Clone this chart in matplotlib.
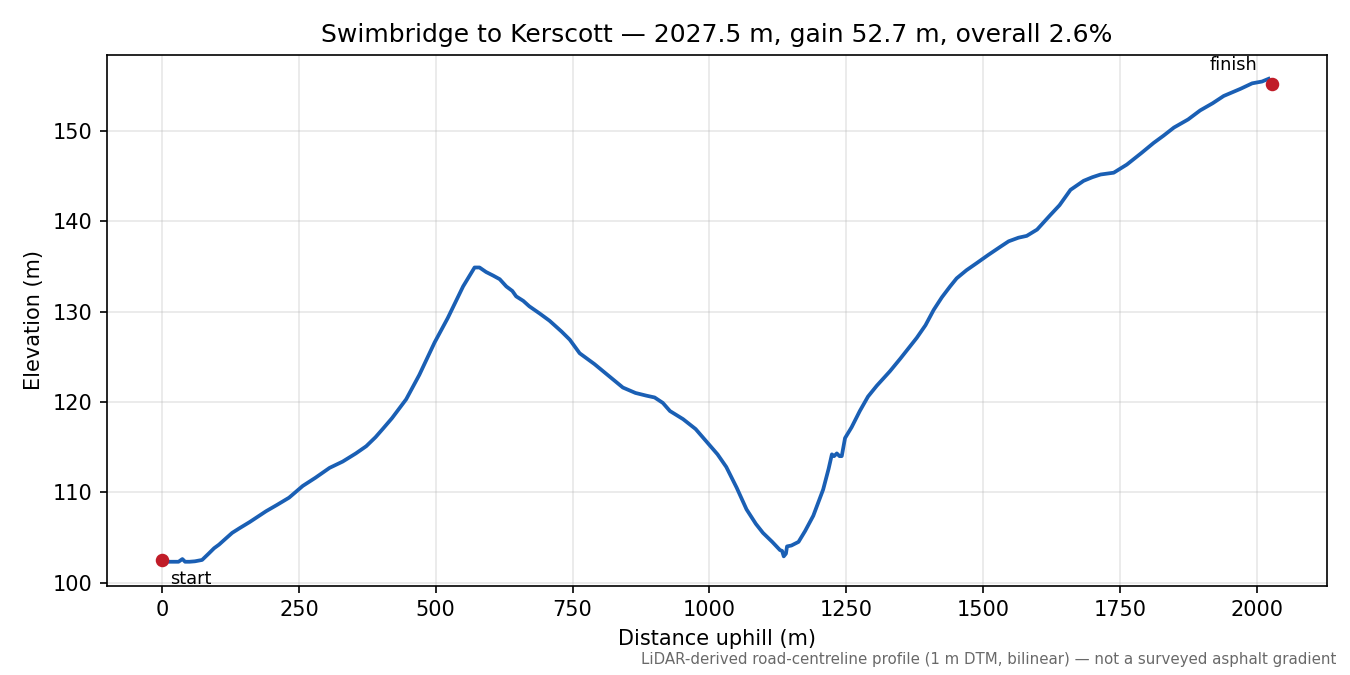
import matplotlib
matplotlib.use("Agg")
import matplotlib.pyplot as plt

# profile
dist = [0, 10, 20, 30, 37, 42, 50, 60, 73, 85, 95, 104, 115, 128, 141, 160, 190, 210,
        232, 257, 280, 306, 330, 354, 373, 390, 403, 420, 446, 470, 498, 522, 550, 571,
        580, 592, 605, 617, 629, 640, 647, 660, 671, 690, 708, 730, 745, 763, 790, 812,
        842, 865, 885, 900, 915, 928, 952, 975, 995, 1015, 1031, 1050, 1068, 1085, 1098,
        1115, 1129, 1133, 1136, 1140, 1142, 1150, 1163, 1175, 1190, 1208, 1218, 1224,
        1228, 1233, 1238, 1242, 1248, 1260, 1275, 1290, 1306, 1330, 1349, 1379, 1395,
        1410, 1425, 1440, 1452, 1470, 1489, 1510, 1532, 1547, 1565, 1580, 1599, 1623,
        1640, 1660, 1684, 1700, 1715, 1739, 1763, 1790, 1812, 1830, 1849, 1875, 1897,
        1920, 1940, 1971, 1992, 2010, 2022]
elev = [102.4, 102.3, 102.3, 102.3, 102.6, 102.3, 102.3, 102.35, 102.5, 103.2, 103.8,
        104.2, 104.8, 105.5, 106.0, 106.7, 107.9, 108.6, 109.4, 110.7, 111.6, 112.7,
        113.4, 114.3, 115.1, 116.1, 117.0, 118.2, 120.3, 123.0, 126.6, 129.3, 132.8,
        134.9, 134.9, 134.4, 134.0, 133.6, 132.8, 132.3, 131.7, 131.2, 130.6, 129.8,
        129.0, 127.8, 126.9, 125.4, 124.2, 123.1, 121.6, 121.0, 120.7, 120.5, 119.9,
        119.0, 118.1, 117.0, 115.6, 114.2, 112.8, 110.5, 108.1, 106.5, 105.5, 104.5,
        103.6, 103.5, 102.9, 103.2, 104.0, 104.1, 104.5, 105.7, 107.4, 110.3, 112.6,
        114.2, 114.0, 114.3, 114.0, 114.0, 116.0, 117.2, 119.0, 120.6, 121.8, 123.4,
        124.8, 127.1, 128.5, 130.2, 131.6, 132.8, 133.7, 134.6, 135.4, 136.3, 137.2,
        137.8, 138.2, 138.4, 139.1, 140.7, 141.8, 143.5, 144.5, 144.9, 145.2, 145.4,
        146.3, 147.6, 148.7, 149.5, 150.4, 151.3, 152.3, 153.1, 153.9, 154.7, 155.3,
        155.5, 155.8]

start = (0, 102.5)
finish = (2027.5, 155.2)

fig, ax = plt.subplots(figsize=(9, 4.5), dpi=150)
fig.subplots_adjust(left=0.079, right=0.983, top=0.919, bottom=0.132)

ax.plot(dist, elev, color="#1a5fb4", linewidth=1.8)
ax.scatter([start[0], finish[0]], [start[1], finish[1]], color="#c01c28", s=30, zorder=3)

ax.annotate("start", xy=start, xytext=(4, -9), textcoords="offset points",
            ha="left", va="center", fontsize=8.5)
ax.annotate("finish", xy=finish, xytext=(-7, 9), textcoords="offset points",
            ha="right", va="center", fontsize=8.5)

ax.set_title("Swimbridge to Kerscott \u2014 2027.5 m, gain 52.7 m, overall 2.6%", fontsize=12)
ax.set_xlabel("Distance uphill (m)")
ax.set_ylabel("Elevation (m)")
ax.grid(True, alpha=0.3)

fig.text(0.99, 0.012, "LiDAR-derived road-centreline profile (1 m DTM, bilinear) \u2014 not a surveyed asphalt gradient",
         ha="right", va="bottom", fontsize=7.2, color="dimgray")

plt.savefig("out.png", dpi=150)
